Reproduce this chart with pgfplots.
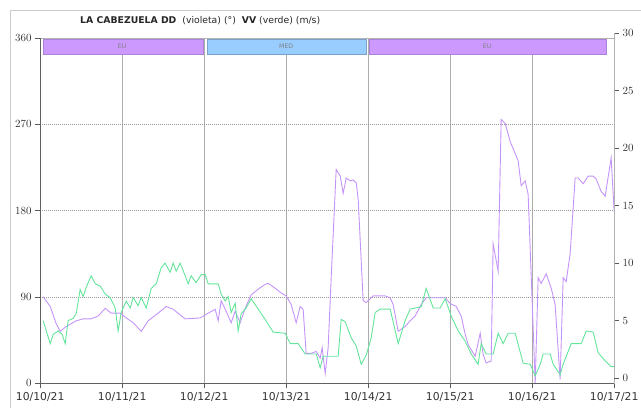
\documentclass[border=0pt]{standalone}
\usepackage{fontspec}
\setmainfont{DejaVu Sans}
\usepackage{pgfplots}
\pgfplotsset{compat=1.18}
\definecolor{viol}{RGB}{196,148,250}
\definecolor{verd}{RGB}{100,228,155}
\definecolor{barp}{RGB}{204,153,255}
\definecolor{barb}{RGB}{153,204,255}
\begin{document}
\begin{tikzpicture}[x=1pt,y=1pt]
\useasboundingbox (0,0) rectangle (641,408);
\draw[gray!40] (10,0) -- (10,398) -- (641,398);
\node[anchor=west,inner sep=0pt,font=\fontsize{9.3}{11}\selectfont,text=black!85] at (80,387)
  {\textbf{LA CABEZUELA DD}\ \ (violeta) (°)\ \ \textbf{VV} (verde) (m/s)};
\begin{axis}[
  at={(49,26)}, anchor=south west,
  scale only axis, width=574pt, height=345pt,
  xmin=0, xmax=7, ymin=0, ymax=360,
  xtick={0,1,2,3,4,5,6,7},
  xticklabels={10/10/21,10/11/21,10/12/21,10/13/21,10/14/21,10/15/21,10/16/21,10/17/21},
  ytick={0,90,180,270,360},
  tick pos=left, tick align=outside, major tick length=5pt,
  tick style={gray!70!black, line width=0.6pt},
  xmajorgrids, ymajorgrids,
  x grid style={gray!65, line width=1pt},
  y grid style={gray!80, dash pattern=on 1pt off 1pt, line width=0.5pt},
  axis line style={gray!60, line width=0.6pt},
  ticklabel style={font=\fontsize{10.8}{12}\selectfont, text=black!80},
  xticklabel style={yshift=-1pt},
  clip=false,
]
\draw[barp!85!black, fill=barp, line width=0.4pt] (axis cs:0.037,343) rectangle (axis cs:1.988,359);
\draw[barb!80!black, fill=barb, line width=0.4pt] (axis cs:2.037,343) rectangle (axis cs:3.976,359);
\draw[barp!85!black, fill=barp, line width=0.4pt] (axis cs:4.012,343) rectangle (axis cs:6.900,359);
\node[font=\fontsize{6.2}{7}\selectfont, text=gray] at (axis cs:1.0,351) {EU};
\node[font=\fontsize{6.2}{7}\selectfont, text=gray] at (axis cs:3.0,351) {MED};
\node[font=\fontsize{6.2}{7}\selectfont, text=gray] at (axis cs:5.45,351) {EU};
\addplot[viol, line width=0.9pt] coordinates {
(0.037,90)(0.122,80)(0.195,62)(0.244,54)(0.317,59)(0.439,65)(0.524,67)(0.622,67)(0.707,70)(0.793,78)(0.866,73)(0.976,73)(1.049,68)(1.134,63)(1.232,54)(1.317,65)(1.439,73)(1.537,80)(1.622,77)(1.768,67)(1.951,68)(2.049,73)(2.134,77)(2.171,65)(2.207,86)(2.268,75)(2.329,63)(2.378,75)(2.439,63)(2.500,78)(2.573,92)(2.659,98)(2.744,103)(2.780,104)(2.866,99)(2.939,94)(3.000,91)(3.061,82)(3.122,63)(3.171,80)(3.207,77)(3.244,31)(3.305,31)(3.366,33)(3.415,26)(3.439,37)(3.476,10)(3.512,37)(3.549,110)(3.610,223)(3.659,216)(3.695,198)(3.732,214)(3.780,211)(3.817,212)(3.854,209)(3.878,192)(3.939,86)(3.976,84)(4.061,91)(4.207,91)(4.268,89)(4.305,82)(4.366,54)(4.451,59)(4.512,65)(4.573,70)(4.646,82)(4.707,89)(4.939,89)(5.000,83)(5.073,80)(5.134,70)(5.183,51)(5.220,40)(5.305,28)(5.366,52)(5.402,30)(5.439,21)(5.500,23)(5.524,145)(5.585,117)(5.622,275)(5.671,271)(5.732,252)(5.829,232)(5.866,206)(5.915,211)(5.951,197)(6.037,0)(6.073,110)(6.110,104)(6.171,114)(6.232,99)(6.280,82)(6.341,4)(6.378,110)(6.415,106)(6.463,135)(6.524,214)(6.561,214)(6.622,208)(6.683,216)(6.744,216)(6.780,213)(6.841,200)(6.890,195)(6.963,235)(7.000,179)
};
\draw[gray!75!black, line width=1.1pt] (rel axis cs:0,0) -- (rel axis cs:0,1);
\draw[gray!75!black, line width=1.1pt] (rel axis cs:0,0) -- (rel axis cs:1,0);
\end{axis}
\begin{axis}[
  at={(49,26)}, anchor=south west,
  scale only axis, width=574pt, height=345pt,
  xmin=0, xmax=7, ymin=0, ymax=30,
  axis x line=none, axis y line*=right,
  ytick={0,5,10,15,20,25,30},
  tick align=outside, major tick length=5pt,
  tick style={gray!70!black, line width=0.6pt},
  axis line style={gray!60, line width=0.6pt},
  ticklabel style={font=\fontsize{10.8}{12}\selectfont, text=black!80},
]
\addplot[verd, line width=0.9pt] coordinates {
(0.037,5.0)(0.122,3.0)(0.159,3.8)(0.220,4.1)(0.268,3.8)(0.305,3.0)(0.341,5.0)(0.402,5.2)(0.439,5.6)(0.488,7.7)(0.524,7.1)(0.561,7.9)(0.622,8.9)(0.671,8.2)(0.732,8.0)(0.793,7.3)(0.854,7.0)(0.915,6.1)(0.951,4.1)(0.988,5.7)(1.049,6.7)(1.098,6.1)(1.134,7.0)(1.195,6.3)(1.232,7.0)(1.293,6.1)(1.354,7.8)(1.415,8.2)(1.476,9.6)(1.524,10.0)(1.585,9.2)(1.622,10.0)(1.659,9.3)(1.707,10.0)(1.768,8.9)(1.805,8.2)(1.841,8.9)(1.902,8.3)(1.963,9.0)(2.012,9.0)(2.049,8.2)(2.171,8.2)(2.207,7.3)(2.256,6.7)(2.293,7.1)(2.329,5.7)(2.378,6.5)(2.415,4.1)(2.451,5.6)(2.512,6.1)(2.573,6.9)(2.659,6.0)(2.744,5.1)(2.841,4.0)(2.988,3.9)(3.049,3.0)(3.146,3.0)(3.232,2.1)(3.366,2.1)(3.415,0.9)(3.451,1.9)(3.634,1.9)(3.671,5.1)(3.720,4.9)(3.793,3.5)(3.854,2.8)(3.915,1.2)(3.976,2.0)(4.037,3.5)(4.085,5.7)(4.146,6.0)(4.268,6.0)(4.366,3.0)(4.451,5.0)(4.512,6.0)(4.646,6.2)(4.707,7.8)(4.793,6.1)(4.878,6.1)(4.939,6.9)(5.012,5.4)(5.098,4.1)(5.183,3.2)(5.256,2.1)(5.341,1.2)(5.378,3.0)(5.439,2.1)(5.524,2.1)(5.585,3.9)(5.646,3.0)(5.707,3.9)(5.793,3.9)(5.890,1.3)(5.976,1.2)(6.037,0.2)(6.098,1.2)(6.134,2.1)(6.220,2.1)(6.256,1.2)(6.341,0.3)(6.378,1.2)(6.476,3.0)(6.598,3.0)(6.659,4.1)(6.744,4.0)(6.805,2.2)(6.890,1.5)(6.963,1.0)(7.000,1.0)
};
\end{axis}
\end{tikzpicture}
\end{document}
